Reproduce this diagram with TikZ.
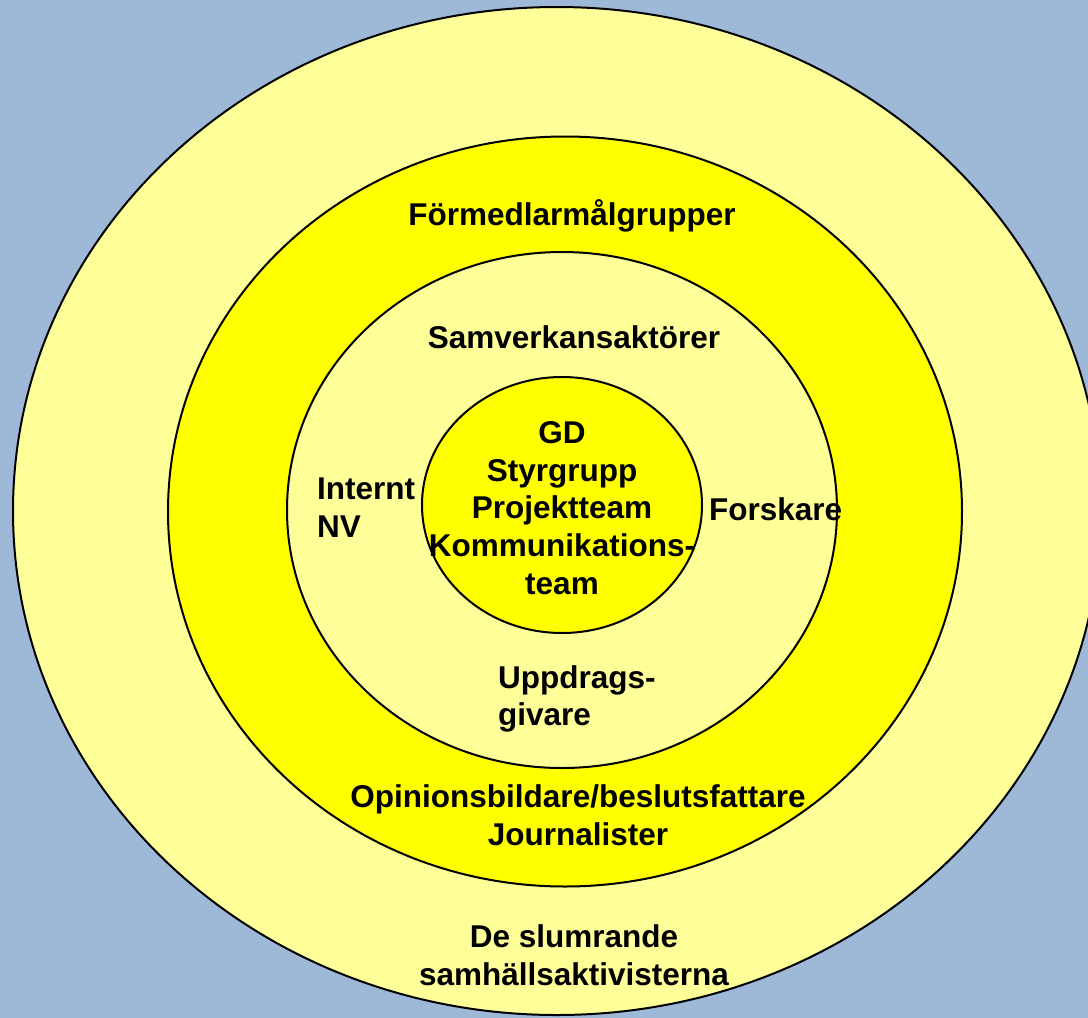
\documentclass[tikz,border=0pt]{standalone}
\usepackage{fontspec}
\setmainfont{Liberation Sans}
\definecolor{bgblue}{RGB}{158,185,216}
\definecolor{paleyellow}{RGB}{255,255,153}
\definecolor{brightyellow}{RGB}{255,255,0}
\tikzset{
  ring/.style={draw=black, line width=2pt},
  lbl/.style={font=\fontsize{31.5}{37.8}\selectfont\bfseries, inner sep=0pt, text=black}
}
\begin{document}
\begin{tikzpicture}[x=1pt,y=-1pt]
\fill[bgblue] (0,0) rectangle (1088,1018);
\useasboundingbox (0,0) rectangle (1088,1018);
\clip (0,0) rectangle (1088,1018);
\draw[ring, fill=paleyellow] (557,511) ellipse [x radius=544pt, y radius=504pt];
\draw[ring, fill=brightyellow] (565,511.5) ellipse [x radius=397pt, y radius=375pt];
\draw[ring, fill=paleyellow] (562,510) ellipse [x radius=275pt, y radius=258pt];
\draw[ring, fill=brightyellow] (562,505) ellipse [x radius=140pt, y radius=128pt];

\node[lbl] (formed) at (572,216) {Förmedlarmålgrupper};
\node[lbl] (samv) at (574,337) {Samverkansaktörer};
\node[lbl, align=center] (core) at (562,508) {GD\\Styrgrupp\\Projektteam\\Kommunikations-\\team};
\node[lbl, align=left, anchor=west] (internt) at (317,508) {Internt\\NV};
\node[lbl, anchor=west] (forsk) at (709,509) {Forskare};
\node[lbl, align=left, anchor=west] (uppdr) at (498,699) {Uppdrags-\\givare};
\node[lbl, align=center] (opin) at (578,815) {Opinionsbildare/beslutsfattare\\Journalister};
\node[lbl, align=center] (slum) at (574,955) {De slumrande\\samhällsaktivisterna};
\end{tikzpicture}
\end{document}
